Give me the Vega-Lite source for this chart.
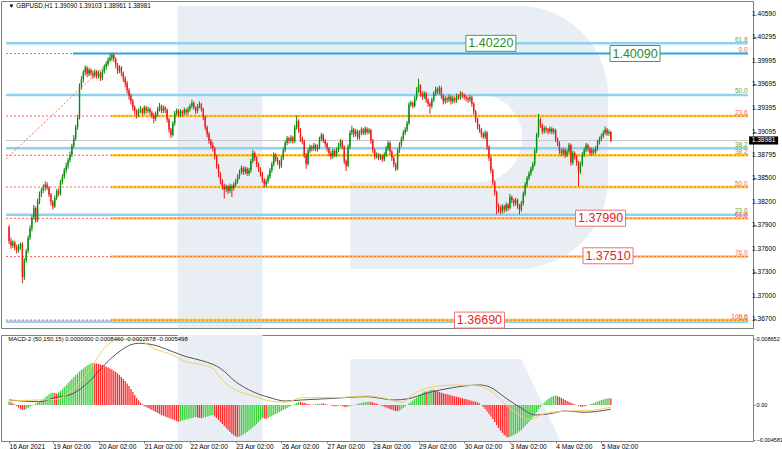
{
"$schema": "https://vega.github.io/schema/vega-lite/v6.json",
"padding": 0,
"spacing": 3,
"background": "white",
"config": {"view": {"stroke": "#7f7f7f", "strokeWidth": 1}, "font": "Liberation Sans",
  "axis": {"labelFont": "Liberation Sans", "labelFontSize": 6.6, "labelColor": "#000000", "tickColor": "#7f7f7f", "domainColor": "#7f7f7f", "grid": false, "tickSize": 3, "labelPadding": 1, "labelOverlap": false, "labelBound": false, "labelFlush": false}},
"resolve": {"scale": {"color": "independent", "stroke": "independent"}},
"datasets": {
"one": [{}],
"yt": [{"p":1.4059},{"p":1.40295},{"p":1.39995},{"p":1.39695},{"p":1.39395},{"p":1.39095},{"p":1.38795},{"p":1.385},{"p":1.382},{"p":1.379},{"p":1.376},{"p":1.373},{"p":1.37},{"p":1.367}],
"cd": [
{"i":-23,"o":1.3788,"h":1.379,"l":1.3766,"c":1.377},
{"i":-22,"o":1.377,"h":1.3774,"l":1.376,"c":1.3764},
{"i":-21,"o":1.3764,"h":1.3771,"l":1.3761,"c":1.3768},
{"i":-20,"o":1.3768,"h":1.377,"l":1.3758,"c":1.3762},
{"i":-19,"o":1.3762,"h":1.3765,"l":1.3754,"c":1.3758},
{"i":-18,"o":1.3758,"h":1.3766,"l":1.3755,"c":1.3763},
{"i":-17,"o":1.3763,"h":1.3768,"l":1.3759,"c":1.3766},
{"i":-16,"o":1.3766,"h":1.3768,"l":1.3716,"c":1.3724},
{"i":-15,"o":1.3724,"h":1.3748,"l":1.372,"c":1.3745},
{"i":-14,"o":1.3745,"h":1.376,"l":1.3742,"c":1.3757},
{"i":-13,"o":1.3757,"h":1.3777,"l":1.3754,"c":1.3774},
{"i":-12,"o":1.3774,"h":1.379,"l":1.3771,"c":1.3786},
{"i":-11,"o":1.3786,"h":1.3803,"l":1.3782,"c":1.38},
{"i":-10,"o":1.38,"h":1.3816,"l":1.3797,"c":1.3812},
{"i":-9,"o":1.3812,"h":1.3814,"l":1.3793,"c":1.3796},
{"i":-8,"o":1.3796,"h":1.3824,"l":1.3794,"c":1.3821},
{"i":-7,"o":1.3821,"h":1.3833,"l":1.3817,"c":1.383},
{"i":-6,"o":1.383,"h":1.3838,"l":1.3826,"c":1.3835},
{"i":-5,"o":1.3835,"h":1.3842,"l":1.3831,"c":1.3838},
{"i":-4,"o":1.3838,"h":1.3846,"l":1.3834,"c":1.3842},
{"i":-3,"o":1.3842,"h":1.3845,"l":1.3835,"c":1.3838},
{"i":-2,"o":1.3838,"h":1.384,"l":1.3826,"c":1.3829},
{"i":-1,"o":1.3829,"h":1.3831,"l":1.3815,"c":1.382},
{"i":0,"o":1.382,"h":1.3822,"l":1.381,"c":1.3814},
{"i":1,"o":1.3814,"h":1.3828,"l":1.3812,"c":1.3825},
{"i":2,"o":1.3825,"h":1.3836,"l":1.3822,"c":1.3834},
{"i":3,"o":1.3834,"h":1.3837,"l":1.3827,"c":1.383},
{"i":4,"o":1.383,"h":1.3848,"l":1.3828,"c":1.3845},
{"i":5,"o":1.3845,"h":1.3855,"l":1.3842,"c":1.3852},
{"i":6,"o":1.3852,"h":1.3863,"l":1.3849,"c":1.386},
{"i":7,"o":1.386,"h":1.387,"l":1.3856,"c":1.3866},
{"i":8,"o":1.3866,"h":1.3876,"l":1.3862,"c":1.3873},
{"i":9,"o":1.3873,"h":1.3884,"l":1.387,"c":1.388},
{"i":10,"o":1.388,"h":1.3894,"l":1.3877,"c":1.3891},
{"i":11,"o":1.3891,"h":1.3905,"l":1.3888,"c":1.3901},
{"i":12,"o":1.3901,"h":1.3918,"l":1.3898,"c":1.3915},
{"i":13,"o":1.3915,"h":1.3931,"l":1.3912,"c":1.3927},
{"i":14,"o":1.3927,"h":1.3971,"l":1.3925,"c":1.3968},
{"i":15,"o":1.3968,"h":1.398,"l":1.3963,"c":1.3976},
{"i":16,"o":1.3976,"h":1.3988,"l":1.3972,"c":1.3985},
{"i":17,"o":1.3985,"h":1.3994,"l":1.3981,"c":1.3991},
{"i":18,"o":1.3991,"h":1.3993,"l":1.3979,"c":1.3983},
{"i":19,"o":1.3983,"h":1.3991,"l":1.398,"c":1.3988},
{"i":20,"o":1.3988,"h":1.399,"l":1.398,"c":1.3984},
{"i":21,"o":1.3984,"h":1.3987,"l":1.3977,"c":1.3981},
{"i":22,"o":1.3981,"h":1.3989,"l":1.3978,"c":1.3986},
{"i":23,"o":1.3986,"h":1.3988,"l":1.3977,"c":1.398},
{"i":24,"o":1.398,"h":1.3987,"l":1.3977,"c":1.3984},
{"i":25,"o":1.3984,"h":1.3986,"l":1.3974,"c":1.3978},
{"i":26,"o":1.3978,"h":1.3989,"l":1.3975,"c":1.3986},
{"i":27,"o":1.3986,"h":1.3995,"l":1.3983,"c":1.3992},
{"i":28,"o":1.3992,"h":1.3999,"l":1.3988,"c":1.3996},
{"i":29,"o":1.3996,"h":1.4004,"l":1.3993,"c":1.4001},
{"i":30,"o":1.4001,"h":1.4008,"l":1.3998,"c":1.4004},
{"i":31,"o":1.4004,"h":1.401,"l":1.4,"c":1.4007},
{"i":32,"o":1.4007,"h":1.4009,"l":1.3998,"c":1.4002},
{"i":33,"o":1.4002,"h":1.4004,"l":1.399,"c":1.3994},
{"i":34,"o":1.3994,"h":1.3997,"l":1.3983,"c":1.3987},
{"i":35,"o":1.3987,"h":1.3994,"l":1.3984,"c":1.3991},
{"i":36,"o":1.3991,"h":1.3993,"l":1.398,"c":1.3984},
{"i":37,"o":1.3984,"h":1.3986,"l":1.3973,"c":1.3977},
{"i":38,"o":1.3977,"h":1.398,"l":1.3966,"c":1.3971},
{"i":39,"o":1.3971,"h":1.3974,"l":1.3958,"c":1.3962},
{"i":40,"o":1.3962,"h":1.3965,"l":1.395,"c":1.3955},
{"i":41,"o":1.3955,"h":1.3958,"l":1.3944,"c":1.3948},
{"i":42,"o":1.3948,"h":1.3951,"l":1.3936,"c":1.394},
{"i":43,"o":1.394,"h":1.3943,"l":1.3931,"c":1.3936},
{"i":44,"o":1.3936,"h":1.3938,"l":1.3926,"c":1.3931},
{"i":45,"o":1.3931,"h":1.3939,"l":1.3928,"c":1.3936},
{"i":46,"o":1.3936,"h":1.3942,"l":1.3933,"c":1.3938},
{"i":47,"o":1.3938,"h":1.394,"l":1.393,"c":1.3933},
{"i":48,"o":1.3933,"h":1.3943,"l":1.3931,"c":1.394},
{"i":49,"o":1.394,"h":1.3942,"l":1.3932,"c":1.3936},
{"i":50,"o":1.3936,"h":1.3941,"l":1.3933,"c":1.3938},
{"i":51,"o":1.3938,"h":1.394,"l":1.393,"c":1.3934},
{"i":52,"o":1.3934,"h":1.3936,"l":1.3926,"c":1.393},
{"i":53,"o":1.393,"h":1.3933,"l":1.392,"c":1.3926},
{"i":54,"o":1.3926,"h":1.3935,"l":1.3923,"c":1.3932},
{"i":55,"o":1.3932,"h":1.3941,"l":1.3929,"c":1.3938},
{"i":56,"o":1.3938,"h":1.3946,"l":1.3935,"c":1.3942},
{"i":57,"o":1.3942,"h":1.3944,"l":1.3933,"c":1.3936},
{"i":58,"o":1.3936,"h":1.3943,"l":1.3933,"c":1.394},
{"i":59,"o":1.394,"h":1.3942,"l":1.3933,"c":1.3937},
{"i":60,"o":1.3937,"h":1.3939,"l":1.3921,"c":1.3925},
{"i":61,"o":1.3925,"h":1.3927,"l":1.3908,"c":1.3912},
{"i":62,"o":1.3912,"h":1.3914,"l":1.3901,"c":1.3905},
{"i":63,"o":1.3905,"h":1.3923,"l":1.3903,"c":1.392},
{"i":64,"o":1.392,"h":1.3936,"l":1.3917,"c":1.3933},
{"i":65,"o":1.3933,"h":1.3939,"l":1.393,"c":1.3936},
{"i":66,"o":1.3936,"h":1.3938,"l":1.3928,"c":1.3931},
{"i":67,"o":1.3931,"h":1.3938,"l":1.3928,"c":1.3935},
{"i":68,"o":1.3935,"h":1.3937,"l":1.3929,"c":1.3933},
{"i":69,"o":1.3933,"h":1.394,"l":1.393,"c":1.3937},
{"i":70,"o":1.3937,"h":1.3939,"l":1.3931,"c":1.3934},
{"i":71,"o":1.3934,"h":1.3941,"l":1.3931,"c":1.3938},
{"i":72,"o":1.3938,"h":1.3945,"l":1.3935,"c":1.3942},
{"i":73,"o":1.3942,"h":1.395,"l":1.3939,"c":1.3946},
{"i":74,"o":1.3946,"h":1.3948,"l":1.3937,"c":1.394},
{"i":75,"o":1.394,"h":1.3942,"l":1.3932,"c":1.3936},
{"i":76,"o":1.3936,"h":1.3945,"l":1.3933,"c":1.3942},
{"i":77,"o":1.3942,"h":1.3948,"l":1.3939,"c":1.3944},
{"i":78,"o":1.3944,"h":1.3946,"l":1.3935,"c":1.3938},
{"i":79,"o":1.3938,"h":1.394,"l":1.3924,"c":1.3928},
{"i":80,"o":1.3928,"h":1.393,"l":1.3911,"c":1.3915},
{"i":81,"o":1.3915,"h":1.3917,"l":1.3902,"c":1.3906},
{"i":82,"o":1.3906,"h":1.3909,"l":1.3894,"c":1.3898},
{"i":83,"o":1.3898,"h":1.39,"l":1.3888,"c":1.3892},
{"i":84,"o":1.3892,"h":1.3896,"l":1.3884,"c":1.3888},
{"i":85,"o":1.3888,"h":1.389,"l":1.3874,"c":1.3878},
{"i":86,"o":1.3878,"h":1.388,"l":1.3862,"c":1.3866},
{"i":87,"o":1.3866,"h":1.3868,"l":1.3851,"c":1.3855},
{"i":88,"o":1.3855,"h":1.3858,"l":1.3842,"c":1.3846},
{"i":89,"o":1.3846,"h":1.3849,"l":1.3835,"c":1.384},
{"i":90,"o":1.384,"h":1.3843,"l":1.3824,"c":1.3836},
{"i":91,"o":1.3836,"h":1.3842,"l":1.3832,"c":1.3839},
{"i":92,"o":1.3839,"h":1.3841,"l":1.383,"c":1.3834},
{"i":93,"o":1.3834,"h":1.3843,"l":1.3831,"c":1.384},
{"i":94,"o":1.384,"h":1.3842,"l":1.3826,"c":1.3837},
{"i":95,"o":1.3837,"h":1.3845,"l":1.3834,"c":1.3842},
{"i":96,"o":1.3842,"h":1.3849,"l":1.3839,"c":1.3846},
{"i":97,"o":1.3846,"h":1.3855,"l":1.3843,"c":1.3852},
{"i":98,"o":1.3852,"h":1.3861,"l":1.3849,"c":1.3858},
{"i":99,"o":1.3858,"h":1.3866,"l":1.3855,"c":1.3863},
{"i":100,"o":1.3863,"h":1.3865,"l":1.3854,"c":1.3858},
{"i":101,"o":1.3858,"h":1.3865,"l":1.3855,"c":1.3862},
{"i":102,"o":1.3862,"h":1.3864,"l":1.3853,"c":1.3856},
{"i":103,"o":1.3856,"h":1.3863,"l":1.3853,"c":1.386},
{"i":104,"o":1.386,"h":1.3875,"l":1.3857,"c":1.3872},
{"i":105,"o":1.3872,"h":1.3886,"l":1.3869,"c":1.3882},
{"i":106,"o":1.3882,"h":1.3884,"l":1.3872,"c":1.3876},
{"i":107,"o":1.3876,"h":1.3878,"l":1.3864,"c":1.3868},
{"i":108,"o":1.3868,"h":1.387,"l":1.3858,"c":1.3862},
{"i":109,"o":1.3862,"h":1.3864,"l":1.3852,"c":1.3856},
{"i":110,"o":1.3856,"h":1.3858,"l":1.3844,"c":1.3848},
{"i":111,"o":1.3848,"h":1.385,"l":1.3838,"c":1.3842},
{"i":112,"o":1.3842,"h":1.3849,"l":1.3839,"c":1.3846},
{"i":113,"o":1.3846,"h":1.3855,"l":1.3843,"c":1.3852},
{"i":114,"o":1.3852,"h":1.3863,"l":1.3849,"c":1.386},
{"i":115,"o":1.386,"h":1.3871,"l":1.3857,"c":1.3868},
{"i":116,"o":1.3868,"h":1.3883,"l":1.3865,"c":1.388},
{"i":117,"o":1.388,"h":1.3882,"l":1.3871,"c":1.3874},
{"i":118,"o":1.3874,"h":1.3877,"l":1.3867,"c":1.387},
{"i":119,"o":1.387,"h":1.3873,"l":1.3862,"c":1.3866},
{"i":120,"o":1.3866,"h":1.3879,"l":1.3863,"c":1.3876},
{"i":121,"o":1.3876,"h":1.3889,"l":1.3873,"c":1.3886},
{"i":122,"o":1.3886,"h":1.3898,"l":1.3883,"c":1.3895},
{"i":123,"o":1.3895,"h":1.3904,"l":1.3892,"c":1.3901},
{"i":124,"o":1.3901,"h":1.3903,"l":1.3894,"c":1.3898},
{"i":125,"o":1.3898,"h":1.3905,"l":1.3895,"c":1.3902},
{"i":126,"o":1.3902,"h":1.3904,"l":1.3894,"c":1.3897},
{"i":127,"o":1.3897,"h":1.3918,"l":1.3895,"c":1.3915},
{"i":128,"o":1.3915,"h":1.393,"l":1.3912,"c":1.3923},
{"i":129,"o":1.3923,"h":1.3925,"l":1.3908,"c":1.3912},
{"i":130,"o":1.3912,"h":1.3914,"l":1.3896,"c":1.39},
{"i":131,"o":1.39,"h":1.3903,"l":1.3893,"c":1.3897},
{"i":132,"o":1.3897,"h":1.3899,"l":1.3876,"c":1.388},
{"i":133,"o":1.388,"h":1.3882,"l":1.3862,"c":1.3868},
{"i":134,"o":1.3868,"h":1.3888,"l":1.3866,"c":1.3885},
{"i":135,"o":1.3885,"h":1.3893,"l":1.3882,"c":1.389},
{"i":136,"o":1.389,"h":1.3892,"l":1.3884,"c":1.3888},
{"i":137,"o":1.3888,"h":1.3895,"l":1.3885,"c":1.3892},
{"i":138,"o":1.3892,"h":1.3894,"l":1.3884,"c":1.3887},
{"i":139,"o":1.3887,"h":1.3893,"l":1.3884,"c":1.389},
{"i":140,"o":1.389,"h":1.3903,"l":1.3887,"c":1.39},
{"i":141,"o":1.39,"h":1.3908,"l":1.3897,"c":1.3905},
{"i":142,"o":1.3905,"h":1.3907,"l":1.3895,"c":1.3898},
{"i":143,"o":1.3898,"h":1.39,"l":1.389,"c":1.3894},
{"i":144,"o":1.3894,"h":1.3896,"l":1.3884,"c":1.3888},
{"i":145,"o":1.3888,"h":1.389,"l":1.3878,"c":1.3882},
{"i":146,"o":1.3882,"h":1.3885,"l":1.3874,"c":1.3878},
{"i":147,"o":1.3878,"h":1.3888,"l":1.3875,"c":1.3885},
{"i":148,"o":1.3885,"h":1.3887,"l":1.3877,"c":1.388},
{"i":149,"o":1.388,"h":1.3889,"l":1.3877,"c":1.3886},
{"i":150,"o":1.3886,"h":1.3895,"l":1.3883,"c":1.3892},
{"i":151,"o":1.3892,"h":1.39,"l":1.3889,"c":1.3897},
{"i":152,"o":1.3897,"h":1.3899,"l":1.3887,"c":1.389},
{"i":153,"o":1.389,"h":1.3892,"l":1.3868,"c":1.3872},
{"i":154,"o":1.3872,"h":1.3874,"l":1.3859,"c":1.3866},
{"i":155,"o":1.3866,"h":1.3893,"l":1.3864,"c":1.389},
{"i":156,"o":1.389,"h":1.3911,"l":1.3887,"c":1.3908},
{"i":157,"o":1.3908,"h":1.3917,"l":1.3905,"c":1.3912},
{"i":158,"o":1.3912,"h":1.3914,"l":1.3902,"c":1.3906},
{"i":159,"o":1.3906,"h":1.3913,"l":1.3903,"c":1.391},
{"i":160,"o":1.391,"h":1.3912,"l":1.3899,"c":1.3902},
{"i":161,"o":1.3902,"h":1.3911,"l":1.3899,"c":1.3908},
{"i":162,"o":1.3908,"h":1.3915,"l":1.3905,"c":1.3912},
{"i":163,"o":1.3912,"h":1.3914,"l":1.3905,"c":1.3908},
{"i":164,"o":1.3908,"h":1.3916,"l":1.3905,"c":1.3913},
{"i":165,"o":1.3913,"h":1.3915,"l":1.3906,"c":1.3909},
{"i":166,"o":1.3909,"h":1.3914,"l":1.3906,"c":1.3911},
{"i":167,"o":1.3911,"h":1.3913,"l":1.3894,"c":1.3898},
{"i":168,"o":1.3898,"h":1.39,"l":1.3882,"c":1.3886},
{"i":169,"o":1.3886,"h":1.3888,"l":1.3874,"c":1.3878},
{"i":170,"o":1.3878,"h":1.3883,"l":1.3875,"c":1.388},
{"i":171,"o":1.388,"h":1.3882,"l":1.3873,"c":1.3876},
{"i":172,"o":1.3876,"h":1.3881,"l":1.3873,"c":1.3878},
{"i":173,"o":1.3878,"h":1.388,"l":1.3871,"c":1.3874},
{"i":174,"o":1.3874,"h":1.3883,"l":1.3871,"c":1.388},
{"i":175,"o":1.388,"h":1.3891,"l":1.3877,"c":1.3888},
{"i":176,"o":1.3888,"h":1.3898,"l":1.3885,"c":1.3895},
{"i":177,"o":1.3895,"h":1.3897,"l":1.388,"c":1.3884},
{"i":178,"o":1.3884,"h":1.3886,"l":1.3872,"c":1.3876},
{"i":179,"o":1.3876,"h":1.3878,"l":1.3864,"c":1.3868},
{"i":180,"o":1.3868,"h":1.387,"l":1.3859,"c":1.3862},
{"i":181,"o":1.3862,"h":1.3888,"l":1.386,"c":1.3885},
{"i":182,"o":1.3885,"h":1.3896,"l":1.3882,"c":1.3893},
{"i":183,"o":1.3893,"h":1.3903,"l":1.389,"c":1.39},
{"i":184,"o":1.39,"h":1.3911,"l":1.3897,"c":1.3908},
{"i":185,"o":1.3908,"h":1.3915,"l":1.3905,"c":1.3912},
{"i":186,"o":1.3912,"h":1.3923,"l":1.3909,"c":1.392},
{"i":187,"o":1.392,"h":1.3947,"l":1.3918,"c":1.3944},
{"i":188,"o":1.3944,"h":1.3949,"l":1.3941,"c":1.3946},
{"i":189,"o":1.3946,"h":1.3948,"l":1.3939,"c":1.3942},
{"i":190,"o":1.3942,"h":1.3955,"l":1.394,"c":1.3952},
{"i":191,"o":1.3952,"h":1.3966,"l":1.3949,"c":1.3962},
{"i":192,"o":1.3962,"h":1.3977,"l":1.3959,"c":1.3968},
{"i":193,"o":1.3968,"h":1.397,"l":1.3954,"c":1.3958},
{"i":194,"o":1.3958,"h":1.3961,"l":1.395,"c":1.3954},
{"i":195,"o":1.3954,"h":1.3961,"l":1.3951,"c":1.3958},
{"i":196,"o":1.3958,"h":1.396,"l":1.3946,"c":1.395},
{"i":197,"o":1.395,"h":1.3952,"l":1.3941,"c":1.3945},
{"i":198,"o":1.3945,"h":1.3947,"l":1.3932,"c":1.3942},
{"i":199,"o":1.3942,"h":1.3953,"l":1.3939,"c":1.395},
{"i":200,"o":1.395,"h":1.3961,"l":1.3947,"c":1.3958},
{"i":201,"o":1.3958,"h":1.3967,"l":1.3955,"c":1.3964},
{"i":202,"o":1.3964,"h":1.3966,"l":1.3957,"c":1.396},
{"i":203,"o":1.396,"h":1.3968,"l":1.3957,"c":1.3965},
{"i":204,"o":1.3965,"h":1.3967,"l":1.3951,"c":1.3955},
{"i":205,"o":1.3955,"h":1.3957,"l":1.3944,"c":1.3948},
{"i":206,"o":1.3948,"h":1.3955,"l":1.3945,"c":1.3952},
{"i":207,"o":1.3952,"h":1.3954,"l":1.3946,"c":1.395},
{"i":208,"o":1.395,"h":1.3957,"l":1.3947,"c":1.3954},
{"i":209,"o":1.3954,"h":1.3956,"l":1.3944,"c":1.3948},
{"i":210,"o":1.3948,"h":1.3955,"l":1.3945,"c":1.3952},
{"i":211,"o":1.3952,"h":1.3954,"l":1.3946,"c":1.3949},
{"i":212,"o":1.3949,"h":1.3958,"l":1.3946,"c":1.3955},
{"i":213,"o":1.3955,"h":1.3957,"l":1.395,"c":1.3953},
{"i":214,"o":1.3953,"h":1.3961,"l":1.395,"c":1.3958},
{"i":215,"o":1.3958,"h":1.396,"l":1.3952,"c":1.3956},
{"i":216,"o":1.3956,"h":1.3958,"l":1.395,"c":1.3954},
{"i":217,"o":1.3954,"h":1.3956,"l":1.3948,"c":1.3952},
{"i":218,"o":1.3952,"h":1.3954,"l":1.3946,"c":1.395},
{"i":219,"o":1.395,"h":1.3956,"l":1.3947,"c":1.3953},
{"i":220,"o":1.3953,"h":1.3955,"l":1.3941,"c":1.3945},
{"i":221,"o":1.3945,"h":1.3947,"l":1.3931,"c":1.3935},
{"i":222,"o":1.3935,"h":1.3937,"l":1.3921,"c":1.3925},
{"i":223,"o":1.3925,"h":1.3927,"l":1.3912,"c":1.3916},
{"i":224,"o":1.3916,"h":1.3919,"l":1.3908,"c":1.3912},
{"i":225,"o":1.3912,"h":1.3914,"l":1.3902,"c":1.3906},
{"i":226,"o":1.3906,"h":1.3909,"l":1.39,"c":1.3903},
{"i":227,"o":1.3903,"h":1.3911,"l":1.39,"c":1.3908},
{"i":228,"o":1.3908,"h":1.391,"l":1.3886,"c":1.389},
{"i":229,"o":1.389,"h":1.3892,"l":1.3872,"c":1.3876},
{"i":230,"o":1.3876,"h":1.3878,"l":1.3856,"c":1.386},
{"i":231,"o":1.386,"h":1.3862,"l":1.3841,"c":1.3845},
{"i":232,"o":1.3845,"h":1.3847,"l":1.3828,"c":1.3832},
{"i":233,"o":1.3832,"h":1.3834,"l":1.3804,"c":1.3815},
{"i":234,"o":1.3815,"h":1.3818,"l":1.3806,"c":1.3812},
{"i":235,"o":1.3812,"h":1.3815,"l":1.3804,"c":1.3808},
{"i":236,"o":1.3808,"h":1.3817,"l":1.3805,"c":1.3814},
{"i":237,"o":1.3814,"h":1.3816,"l":1.3806,"c":1.381},
{"i":238,"o":1.381,"h":1.3819,"l":1.3807,"c":1.3816},
{"i":239,"o":1.3816,"h":1.3818,"l":1.3808,"c":1.3812},
{"i":240,"o":1.3812,"h":1.383,"l":1.381,"c":1.3826},
{"i":241,"o":1.3826,"h":1.3828,"l":1.3818,"c":1.3822},
{"i":242,"o":1.3822,"h":1.3824,"l":1.3814,"c":1.3818},
{"i":243,"o":1.3818,"h":1.3825,"l":1.3815,"c":1.3822},
{"i":244,"o":1.3822,"h":1.3824,"l":1.3811,"c":1.3815},
{"i":245,"o":1.3815,"h":1.3817,"l":1.3804,"c":1.381},
{"i":246,"o":1.381,"h":1.3821,"l":1.3807,"c":1.3818},
{"i":247,"o":1.3818,"h":1.3833,"l":1.3815,"c":1.383},
{"i":248,"o":1.383,"h":1.3845,"l":1.3827,"c":1.3842},
{"i":249,"o":1.3842,"h":1.3853,"l":1.3839,"c":1.385},
{"i":250,"o":1.385,"h":1.3859,"l":1.3847,"c":1.3856},
{"i":251,"o":1.3856,"h":1.3865,"l":1.3853,"c":1.3862},
{"i":252,"o":1.3862,"h":1.3871,"l":1.3859,"c":1.3868},
{"i":253,"o":1.3868,"h":1.3888,"l":1.3865,"c":1.3885},
{"i":254,"o":1.3885,"h":1.3908,"l":1.3882,"c":1.3905},
{"i":255,"o":1.3905,"h":1.3932,"l":1.3902,"c":1.3925},
{"i":256,"o":1.3925,"h":1.3927,"l":1.3914,"c":1.3918},
{"i":257,"o":1.3918,"h":1.392,"l":1.3906,"c":1.391},
{"i":258,"o":1.391,"h":1.3917,"l":1.3907,"c":1.3914},
{"i":259,"o":1.3914,"h":1.3916,"l":1.3908,"c":1.3912},
{"i":260,"o":1.3912,"h":1.3914,"l":1.3906,"c":1.391},
{"i":261,"o":1.391,"h":1.3916,"l":1.3907,"c":1.3913},
{"i":262,"o":1.3913,"h":1.3915,"l":1.3906,"c":1.3909},
{"i":263,"o":1.3909,"h":1.3914,"l":1.3906,"c":1.3911},
{"i":264,"o":1.3911,"h":1.3913,"l":1.3896,"c":1.39},
{"i":265,"o":1.39,"h":1.3902,"l":1.3891,"c":1.3895},
{"i":266,"o":1.3895,"h":1.3897,"l":1.3881,"c":1.3885},
{"i":267,"o":1.3885,"h":1.3888,"l":1.3878,"c":1.3882},
{"i":268,"o":1.3882,"h":1.3889,"l":1.3879,"c":1.3886},
{"i":269,"o":1.3886,"h":1.3888,"l":1.3876,"c":1.388},
{"i":270,"o":1.388,"h":1.3887,"l":1.3877,"c":1.3884},
{"i":271,"o":1.3884,"h":1.3895,"l":1.3881,"c":1.3892},
{"i":272,"o":1.3892,"h":1.3894,"l":1.3866,"c":1.387},
{"i":273,"o":1.387,"h":1.3885,"l":1.3867,"c":1.3882},
{"i":274,"o":1.3882,"h":1.3884,"l":1.3874,"c":1.3878},
{"i":275,"o":1.3878,"h":1.388,"l":1.3866,"c":1.387},
{"i":276,"o":1.387,"h":1.3872,"l":1.384,"c":1.3858},
{"i":277,"o":1.3858,"h":1.3871,"l":1.3855,"c":1.3868},
{"i":278,"o":1.3868,"h":1.3883,"l":1.3865,"c":1.388},
{"i":279,"o":1.388,"h":1.3889,"l":1.3877,"c":1.3886},
{"i":280,"o":1.3886,"h":1.3895,"l":1.3883,"c":1.3892},
{"i":281,"o":1.3892,"h":1.3894,"l":1.3884,"c":1.3888},
{"i":282,"o":1.3888,"h":1.389,"l":1.3879,"c":1.3882},
{"i":283,"o":1.3882,"h":1.3889,"l":1.3879,"c":1.3886},
{"i":284,"o":1.3886,"h":1.3888,"l":1.388,"c":1.3884},
{"i":285,"o":1.3884,"h":1.3891,"l":1.3881,"c":1.3888},
{"i":286,"o":1.3888,"h":1.3899,"l":1.3885,"c":1.3896},
{"i":287,"o":1.3896,"h":1.3903,"l":1.3893,"c":1.39},
{"i":288,"o":1.39,"h":1.3907,"l":1.3897,"c":1.3904},
{"i":289,"o":1.3904,"h":1.3911,"l":1.3901,"c":1.3908},
{"i":290,"o":1.3908,"h":1.3916,"l":1.3905,"c":1.3912},
{"i":291,"o":1.3912,"h":1.3914,"l":1.3904,"c":1.3907},
{"i":292,"o":1.3907,"h":1.3912,"l":1.3904,"c":1.3909},
{"i":293,"o":1.3909,"h":1.39103,"l":1.38961,"c":1.38981}
],
"hg": [
{"i":-23,"v":0.00046},{"i":-22,"v":0.00033},{"i":-21,"v":0.0002},{"i":-20,"v":0.00007},{"i":-19,"v":-0.00013},{"i":-18,"v":-0.00033},{"i":-17,"v":-0.0005},{"i":-16,"v":-0.00063},{"i":-15,"v":-0.00066},{"i":-14,"v":-0.00055},
{"i":-13,"v":-0.00039},{"i":-12,"v":-0.00026},{"i":-11,"v":-0.0001},{"i":-10,"v":0.00007},{"i":-9,"v":0.0002},{"i":-8,"v":0.00033},{"i":-7,"v":0.00046},{"i":-6,"v":0.00059},{"i":-5,"v":0.00079},{"i":-4,"v":0.00098},
{"i":-3,"v":0.00118},{"i":-2,"v":0.00138},{"i":-1,"v":0.00157},{"i":0,"v":0.00164},{"i":1,"v":0.00155},{"i":2,"v":0.00151},{"i":3,"v":0.00168},{"i":4,"v":0.00183},{"i":5,"v":0.0021},{"i":6,"v":0.00236},
{"i":7,"v":0.00262},{"i":8,"v":0.00288},{"i":9,"v":0.00314},{"i":10,"v":0.00341},{"i":11,"v":0.00367},{"i":12,"v":0.00393},{"i":13,"v":0.00413},{"i":14,"v":0.00439},{"i":15,"v":0.00459},{"i":16,"v":0.00478},
{"i":17,"v":0.00498},{"i":18,"v":0.00517},{"i":19,"v":0.00531},{"i":20,"v":0.00544},{"i":21,"v":0.0055},{"i":22,"v":0.00548},{"i":23,"v":0.00542},{"i":24,"v":0.00537},{"i":25,"v":0.00531},{"i":26,"v":0.00524},
{"i":27,"v":0.00514},{"i":28,"v":0.00503},{"i":29,"v":0.00491},{"i":30,"v":0.00478},{"i":31,"v":0.00465},{"i":32,"v":0.00449},{"i":33,"v":0.00432},{"i":34,"v":0.00413},{"i":35,"v":0.00393},{"i":36,"v":0.00367},
{"i":37,"v":0.00341},{"i":38,"v":0.00314},{"i":39,"v":0.00282},{"i":40,"v":0.00249},{"i":41,"v":0.0021},{"i":42,"v":0.0017},{"i":43,"v":0.00131},{"i":44,"v":0.00092},{"i":45,"v":0.00059},{"i":46,"v":0.00033},
{"i":47,"v":0.00007},{"i":48,"v":-0.00013},{"i":49,"v":-0.00026},{"i":50,"v":-0.00039},{"i":51,"v":-0.00052},{"i":52,"v":-0.00066},{"i":53,"v":-0.00079},{"i":54,"v":-0.00092},{"i":55,"v":-0.00105},{"i":56,"v":-0.00118},
{"i":57,"v":-0.00131},{"i":58,"v":-0.00141},{"i":59,"v":-0.00151},{"i":60,"v":-0.00161},{"i":61,"v":-0.0017},{"i":62,"v":-0.00181},{"i":63,"v":-0.0019},{"i":64,"v":-0.00199},{"i":65,"v":-0.0021},{"i":66,"v":-0.00219},
{"i":67,"v":-0.00212},{"i":68,"v":-0.00204},{"i":69,"v":-0.00197},{"i":70,"v":-0.0019},{"i":71,"v":-0.00183},{"i":72,"v":-0.00177},{"i":73,"v":-0.0017},{"i":74,"v":-0.00164},{"i":75,"v":-0.00157},{"i":76,"v":-0.00164},
{"i":77,"v":-0.0017},{"i":78,"v":-0.00173},{"i":79,"v":-0.00168},{"i":80,"v":-0.0016},{"i":81,"v":-0.00151},{"i":82,"v":-0.00144},{"i":83,"v":-0.00138},{"i":84,"v":-0.00131},{"i":85,"v":-0.00151},{"i":86,"v":-0.0017},
{"i":87,"v":-0.00197},{"i":88,"v":-0.00223},{"i":89,"v":-0.00249},{"i":90,"v":-0.00275},{"i":91,"v":-0.00301},{"i":92,"v":-0.00328},{"i":93,"v":-0.00354},{"i":94,"v":-0.0038},{"i":95,"v":-0.004},{"i":96,"v":-0.00413},
{"i":97,"v":-0.00419},{"i":98,"v":-0.00413},{"i":99,"v":-0.004},{"i":100,"v":-0.00386},{"i":101,"v":-0.00373},{"i":102,"v":-0.00354},{"i":103,"v":-0.00334},{"i":104,"v":-0.00314},{"i":105,"v":-0.00295},{"i":106,"v":-0.00275},
{"i":107,"v":-0.00249},{"i":108,"v":-0.00223},{"i":109,"v":-0.00197},{"i":110,"v":-0.0017},{"i":111,"v":-0.00177},{"i":112,"v":-0.00183},{"i":113,"v":-0.0017},{"i":114,"v":-0.00157},{"i":115,"v":-0.00144},{"i":116,"v":-0.00131},
{"i":117,"v":-0.00118},{"i":118,"v":-0.00105},{"i":119,"v":-0.00092},{"i":120,"v":-0.00079},{"i":121,"v":-0.00066},{"i":122,"v":-0.00052},{"i":123,"v":-0.00039},{"i":124,"v":-0.00026},{"i":125,"v":-0.00013},{"i":126,"v":0.00001},
{"i":127,"v":0.00013},{"i":128,"v":0.00026},{"i":129,"v":0.00039},{"i":130,"v":0.00037},{"i":131,"v":0.00033},{"i":132,"v":0.00026},{"i":133,"v":0.0002},{"i":134,"v":0.00013},{"i":135,"v":0.00007},{"i":136,"v":0.00003},
{"i":137,"v":0.00007},{"i":138,"v":0.0001},{"i":139,"v":0.00013},{"i":140,"v":0.00016},{"i":141,"v":0.0002},{"i":142,"v":0.00018},{"i":143,"v":0.00013},{"i":144,"v":0.00007},{"i":145,"v":0},{"i":146,"v":-0.00007},
{"i":147,"v":-0.00013},{"i":148,"v":-0.0002},{"i":149,"v":-0.00016},{"i":150,"v":-0.00013},{"i":151,"v":-0.0001},{"i":152,"v":-0.00016},{"i":153,"v":-0.00024},{"i":154,"v":-0.00029},{"i":155,"v":-0.00024},{"i":156,"v":-0.00016},
{"i":157,"v":-0.00007},{"i":158,"v":0.00001},{"i":159,"v":0.00007},{"i":160,"v":0.00013},{"i":161,"v":0.0002},{"i":162,"v":0.00026},{"i":163,"v":0.00033},{"i":164,"v":0.00037},{"i":165,"v":0.00039},{"i":166,"v":0.00042},
{"i":167,"v":0.00039},{"i":168,"v":0.00033},{"i":169,"v":0.00026},{"i":170,"v":0.00017},{"i":171,"v":0.00007},{"i":172,"v":-0.00004},{"i":173,"v":-0.00013},{"i":174,"v":-0.00024},{"i":175,"v":-0.00033},{"i":176,"v":-0.00042},
{"i":177,"v":-0.00052},{"i":178,"v":-0.00063},{"i":179,"v":-0.00072},{"i":180,"v":-0.00079},{"i":181,"v":-0.00083},{"i":182,"v":-0.00072},{"i":183,"v":-0.00059},{"i":184,"v":-0.00039},{"i":185,"v":-0.0002},{"i":186,"v":0.00001},
{"i":187,"v":0.0002},{"i":188,"v":0.00039},{"i":189,"v":0.00059},{"i":190,"v":0.00079},{"i":191,"v":0.00098},{"i":192,"v":0.00118},{"i":193,"v":0.00138},{"i":194,"v":0.00157},{"i":195,"v":0.00177},{"i":196,"v":0.00173},
{"i":197,"v":0.00183},{"i":198,"v":0.00197},{"i":199,"v":0.00203},{"i":200,"v":0.00199},{"i":201,"v":0.0019},{"i":202,"v":0.00181},{"i":203,"v":0.0017},{"i":204,"v":0.00161},{"i":205,"v":0.00155},{"i":206,"v":0.00148},
{"i":207,"v":0.00141},{"i":208,"v":0.00135},{"i":209,"v":0.00128},{"i":210,"v":0.00122},{"i":211,"v":0.00115},{"i":212,"v":0.00109},{"i":213,"v":0.00102},{"i":214,"v":0.00096},{"i":215,"v":0.00089},{"i":216,"v":0.00083},
{"i":217,"v":0.00076},{"i":218,"v":0.00069},{"i":219,"v":0.00063},{"i":220,"v":0.00056},{"i":221,"v":0.0005},{"i":222,"v":0.00043},{"i":223,"v":0.00037},{"i":224,"v":0.0002},{"i":225,"v":-0.00001},{"i":226,"v":-0.00026},
{"i":227,"v":-0.00052},{"i":228,"v":-0.00085},{"i":229,"v":-0.00118},{"i":230,"v":-0.00151},{"i":231,"v":-0.00183},{"i":232,"v":-0.00223},{"i":233,"v":-0.00262},{"i":234,"v":-0.00301},{"i":235,"v":-0.00334},{"i":236,"v":-0.00367},
{"i":237,"v":-0.00393},{"i":238,"v":-0.00413},{"i":239,"v":-0.00422},{"i":240,"v":-0.00417},{"i":241,"v":-0.00406},{"i":242,"v":-0.00393},{"i":243,"v":-0.0038},{"i":244,"v":-0.00364},{"i":245,"v":-0.00347},{"i":246,"v":-0.00328},
{"i":247,"v":-0.00301},{"i":248,"v":-0.00275},{"i":249,"v":-0.00249},{"i":250,"v":-0.00223},{"i":251,"v":-0.0019},{"i":252,"v":-0.00157},{"i":253,"v":-0.00124},{"i":254,"v":-0.00092},{"i":255,"v":-0.00059},{"i":256,"v":-0.00026},
{"i":257,"v":0.00007},{"i":258,"v":0.00033},{"i":259,"v":0.00059},{"i":260,"v":0.00079},{"i":261,"v":0.00094},{"i":262,"v":0.00107},{"i":263,"v":0.00118},{"i":264,"v":0.00122},{"i":265,"v":0.00115},{"i":266,"v":0.00105},
{"i":267,"v":0.00092},{"i":268,"v":0.00079},{"i":269,"v":0.00066},{"i":270,"v":0.00052},{"i":271,"v":0.00039},{"i":272,"v":0.00029},{"i":273,"v":0.0002},{"i":274,"v":0.0001},{"i":275,"v":-0.00001},{"i":276,"v":-0.0001},
{"i":277,"v":-0.0002},{"i":278,"v":-0.00026},{"i":279,"v":-0.0002},{"i":280,"v":-0.00013},{"i":281,"v":-0.00004},{"i":282,"v":0.00007},{"i":283,"v":0.00017},{"i":284,"v":0.00026},{"i":285,"v":0.00037},{"i":286,"v":0.00046},
{"i":287,"v":0.00055},{"i":288,"v":0.00064},{"i":289,"v":0.00072},{"i":290,"v":0.0008},{"i":291,"v":0.00086},{"i":292,"v":0.00092},{"i":293,"v":0.000846}
],
"ml": [
{"i":-23,"s":"macd","v":0.00066},{"i":-7,"s":"macd","v":0.00043},{"i":1,"s":"macd","v":0.00096},{"i":10,"s":"macd","v":0.00144},{"i":19,"s":"macd","v":0.00305},{"i":27,"s":"macd","v":0.00524},{"i":36,"s":"macd","v":0.0072},{"i":41,"s":"macd","v":0.0079},{"i":45,"s":"macd","v":0.00808},{"i":53,"s":"macd","v":0.00786},{"i":62,"s":"macd","v":0.00707},{"i":70,"s":"macd","v":0.00633},{"i":79,"s":"macd","v":0.00576},{"i":88,"s":"macd","v":0.0048},{"i":96,"s":"macd","v":0.00305},{"i":105,"s":"macd","v":0.00174},{"i":114,"s":"macd","v":0.00096},{"i":122,"s":"macd","v":0.00052},{"i":131,"s":"macd","v":0.00066},{"i":148,"s":"macd","v":0.00088},{"i":165,"s":"macd","v":0.00109},{"i":179,"s":"macd","v":0.00066},{"i":186,"s":"macd","v":0.00079},{"i":196,"s":"macd","v":0.00153},{"i":208,"s":"macd","v":0.00219},{"i":224,"s":"macd","v":0.00262},{"i":229,"s":"macd","v":0.0024},{"i":238,"s":"macd","v":0.00088},{"i":246,"s":"macd","v":-0.00043},{"i":253,"s":"macd","v":-0.00131},{"i":259,"s":"macd","v":-0.00122},{"i":269,"s":"macd","v":-0.00079},{"i":279,"s":"macd","v":-0.00096},{"i":293,"s":"macd","v":-0.00055},
{"i":-23,"s":"signal","v":0.00052},{"i":-7,"s":"signal","v":0.00066},{"i":1,"s":"signal","v":0.00072},{"i":10,"s":"signal","v":0.0019},{"i":19,"s":"signal","v":0.0045},{"i":27,"s":"signal","v":0.00742},{"i":32,"s":"signal","v":0.0084},{"i":36,"s":"signal","v":0.0086},{"i":41,"s":"signal","v":0.008652},{"i":45,"s":"signal","v":0.00852},{"i":53,"s":"signal","v":0.00742},{"i":62,"s":"signal","v":0.00664},{"i":70,"s":"signal","v":0.00567},{"i":79,"s":"signal","v":0.00524},{"i":84,"s":"signal","v":0.0048},{"i":88,"s":"signal","v":0.0035},{"i":96,"s":"signal","v":0.00197},{"i":105,"s":"signal","v":0.00122},{"i":114,"s":"signal","v":0.00052},{"i":122,"s":"signal","v":0.00035},{"i":131,"s":"signal","v":0.00096},{"i":148,"s":"signal","v":0.00096},{"i":165,"s":"signal","v":0.00118},{"i":174,"s":"signal","v":0.00088},{"i":183,"s":"signal","v":0.00035},{"i":190,"s":"signal","v":0.00153},{"i":200,"s":"signal","v":0.0024},{"i":212,"s":"signal","v":0.00262},{"i":222,"s":"signal","v":0.00253},{"i":229,"s":"signal","v":0.00197},{"i":238,"s":"signal","v":0},{"i":245,"s":"signal","v":-0.00131},{"i":250,"s":"signal","v":-0.00197},{"i":255,"s":"signal","v":-0.0014},{"i":262,"s":"signal","v":-0.00096},{"i":272,"s":"signal","v":-0.00079},{"i":283,"s":"signal","v":-0.00069},{"i":293,"s":"signal","v":-0.00027}
],
"fl": [
{"p":1.4022,"t":"61.8","k":"g"},{"p":1.39561,"t":"50.0","k":"g"},{"p":1.38881,"t":"38.2","k":"g"},{"p":1.38034,"t":"23.6","k":"g"},{"p":1.3667,"t":"0.0","k":"g"},
{"p":1.4009,"t":"0.0","k":"r"},{"p":1.39293,"t":"23.6","k":"r"},{"p":1.38792,"t":"38.2","k":"r"},{"p":1.38387,"t":"50.0","k":"r"},{"p":1.37988,"t":"61.8","k":"r"},{"p":1.375,"t":"76.0","k":"r"},{"p":1.3669,"t":"100.0","k":"r"}
],
"tg": [
{"i":230,"p":1.4022,"t":"1.40220","k":"g"},{"i":305.7,"p":1.4009,"t":"1.40090","k":"g"},{"i":287.6,"p":1.3799,"t":"1.37990","k":"r"},{"i":291.5,"p":1.3751,"t":"1.37510","k":"r"},{"i":224,"p":1.3669,"t":"1.36690","k":"r"}
]
},
"vconcat": [
{
"width": 752, "height": 327,
"layer": [
{"data": {"name": "one"}, "mark": {"type": "rect", "color": "#e9eef5", "cornerRadiusTopRight": 90, "cornerRadiusBottomRight": 90},
 "encoding": {"x": {"datum": 65.5, "type": "quantitative", "scale": {"domain": [-24.6, 365], "nice": false, "zero": false}, "axis": null}, "x2": {"datum": 291.5},
  "y": {"datum": 1.407, "type": "quantitative", "scale": {"domain": [1.36589, 1.4076], "nice": false, "zero": false},
   "axis": {"orient": "right", "values": [1.367, 1.37, 1.373, 1.376, 1.379, 1.382, 1.385, 1.38795, 1.39095, 1.39395, 1.39695, 1.39995, 1.40295, 1.4059], "labels": false, "title": null}},
  "y2": {"datum": 1.37343}}},
{"data": {"name": "one"}, "mark": {"type": "rect", "color": "#e9eef5"},
 "encoding": {"x": {"datum": 65.5, "type": "quantitative", "scale": {"domain": [-24.6, 365], "nice": false, "zero": false}, "axis": null}, "x2": {"datum": 110.1},
  "y": {"datum": 1.407, "type": "quantitative", "scale": {"domain": [1.36589, 1.4076], "nice": false, "zero": false}}, "y2": {"datum": 1.36589}}},
{"data": {"name": "one"}, "mark": {"type": "rect", "color": "white", "cornerRadiusTopRight": 44, "cornerRadiusBottomRight": 44},
 "encoding": {"x": {"datum": 110.1, "type": "quantitative", "scale": {"domain": [-24.6, 365], "nice": false, "zero": false}, "axis": null}, "x2": {"datum": 246.5},
  "y": {"datum": 1.39574, "type": "quantitative", "scale": {"domain": [1.36589, 1.4076], "nice": false, "zero": false}}, "y2": {"datum": 1.38452}}},
{"data": {"name": "one"}, "mark": {"type": "rect", "color": "white"},
 "encoding": {"x": {"datum": 110.1, "type": "quantitative", "scale": {"domain": [-24.6, 365], "nice": false, "zero": false}, "axis": null}, "x2": {"datum": 156.2},
  "y": {"datum": 1.3846, "type": "quantitative", "scale": {"domain": [1.36589, 1.4076], "nice": false, "zero": false}}, "y2": {"datum": 1.37343}}},
{"data": {"name": "one"}, "mark": {"type": "rule", "color": "#c8c8c8", "strokeWidth": 1},
 "encoding": {"x": {"datum": -24.6, "type": "quantitative", "scale": {"domain": [-24.6, 365], "nice": false, "zero": false}, "axis": null}, "x2": {"datum": 365},
  "y": {"datum": 1.38981, "type": "quantitative", "scale": {"domain": [1.36589, 1.4076], "nice": false, "zero": false}}}},
{"data": {"name": "fl"}, "transform": [{"filter": "datum.k == 'g'"}],
 "mark": {"type": "rule", "color": "#8dd2f0", "strokeWidth": 2.5},
 "encoding": {"x": {"datum": -24.6, "type": "quantitative", "scale": {"domain": [-24.6, 365], "nice": false, "zero": false}, "axis": null}, "x2": {"datum": 365},
  "y": {"field": "p", "type": "quantitative", "scale": {"domain": [1.36589, 1.4076], "nice": false, "zero": false}}}},
{"data": {"name": "fl"}, "transform": [{"filter": "datum.k == 'r' && datum.p < 1.4"}],
 "mark": {"type": "rule", "color": "#ffcc33", "strokeWidth": 2.5},
 "encoding": {"x": {"datum": 30.5, "type": "quantitative", "scale": {"domain": [-24.6, 365], "nice": false, "zero": false}, "axis": null}, "x2": {"datum": 365},
  "y": {"field": "p", "type": "quantitative", "scale": {"domain": [1.36589, 1.4076], "nice": false, "zero": false}}}},
{"data": {"name": "one"}, "mark": {"type": "rule", "color": "#1ea3dc", "strokeWidth": 2},
 "encoding": {"x": {"datum": 10.6, "type": "quantitative", "scale": {"domain": [-24.6, 365], "nice": false, "zero": false}, "axis": null}, "x2": {"datum": 365},
  "y": {"datum": 1.4009, "type": "quantitative", "scale": {"domain": [1.36589, 1.4076], "nice": false, "zero": false}}}},
{"data": {"name": "fl"}, "transform": [{"filter": "datum.k == 'r'"}],
 "mark": {"type": "rule", "color": "#ff6060", "strokeWidth": 1, "strokeDash": [2, 2]},
 "encoding": {"x": {"datum": -24.6, "type": "quantitative", "scale": {"domain": [-24.6, 365], "nice": false, "zero": false}, "axis": null}, "x2": {"datum": 365},
  "y": {"field": "p", "type": "quantitative", "scale": {"domain": [1.36589, 1.4076], "nice": false, "zero": false}}}},
{"data": {"name": "one"}, "mark": {"type": "rule", "color": "#ff6060", "strokeWidth": 1, "strokeDash": [2, 2]},
 "encoding": {"x": {"datum": -24.6, "type": "quantitative", "scale": {"domain": [-24.6, 365], "nice": false, "zero": false}, "axis": null}, "x2": {"datum": 33.9},
  "y": {"datum": 1.38745, "type": "quantitative", "scale": {"domain": [1.36589, 1.4076], "nice": false, "zero": false}}, "y2": {"datum": 1.4009}}},
{"data": {"name": "cd"},
 "mark": {"type": "rule", "strokeWidth": 1},
 "encoding": {"x": {"field": "i", "type": "quantitative", "scale": {"domain": [-24.6, 365], "nice": false, "zero": false}, "axis": null},
  "y": {"field": "l", "type": "quantitative", "scale": {"domain": [1.36589, 1.4076], "nice": false, "zero": false}},
  "y2": {"field": "h"},
  "color": {"condition": {"test": "datum.c >= datum.o", "value": "#0b8f0b"}, "value": "#f01818"}}},
{"data": {"name": "cd"},
 "mark": {"type": "bar", "width": 1.4},
 "encoding": {"x": {"field": "i", "type": "quantitative", "scale": {"domain": [-24.6, 365], "nice": false, "zero": false}, "axis": null},
  "y": {"field": "o", "type": "quantitative", "scale": {"domain": [1.36589, 1.4076], "nice": false, "zero": false}}, "y2": {"field": "c"},
  "color": {"condition": {"test": "datum.c >= datum.o", "value": "#0b8f0b"}, "value": "#f01818"}}},
{"data": {"name": "fl"},
 "mark": {"type": "text", "align": "right", "baseline": "bottom", "fontSize": 6.5, "dy": -0.5},
 "encoding": {"x": {"datum": 364.8, "type": "quantitative", "scale": {"domain": [-24.6, 365], "nice": false, "zero": false}, "axis": null},
  "y": {"field": "p", "type": "quantitative", "scale": {"domain": [1.36589, 1.4076], "nice": false, "zero": false}},
  "text": {"field": "t"},
  "color": {"condition": {"test": "datum.k == 'g'", "value": "#5fa832"}, "value": "#ff5a5a"}}},
{"data": {"name": "tg"},
 "mark": {"type": "point", "shape": "M-1,-0.32H1V0.32H-1Z", "size": 2500, "filled": true, "fill": "white", "opacity": 1, "strokeWidth": 1},
 "encoding": {"x": {"field": "i", "type": "quantitative", "scale": {"domain": [-24.6, 365], "nice": false, "zero": false}, "axis": null},
  "y": {"field": "p", "type": "quantitative", "scale": {"domain": [1.36589, 1.4076], "nice": false, "zero": false}},
  "stroke": {"condition": {"test": "datum.k == 'g'", "value": "#4a9a4a"}, "value": "#f07070"}}},
{"data": {"name": "tg"},
 "mark": {"type": "text", "align": "center", "baseline": "middle", "fontSize": 12.5},
 "encoding": {"x": {"field": "i", "type": "quantitative", "scale": {"domain": [-24.6, 365], "nice": false, "zero": false}, "axis": null},
  "y": {"field": "p", "type": "quantitative", "scale": {"domain": [1.36589, 1.4076], "nice": false, "zero": false}},
  "text": {"field": "t"},
  "color": {"condition": {"test": "datum.k == 'g'", "value": "#2e8b2e"}, "value": "#e02828"}}},
{"data": {"name": "one"}, "mark": {"type": "text", "align": "left", "baseline": "middle", "fontSize": 6.3, "color": "#000000"},
 "encoding": {"x": {"datum": -23.4, "type": "quantitative", "scale": {"domain": [-24.6, 365], "nice": false, "zero": false}, "axis": null},
  "y": {"datum": 1.40696, "type": "quantitative", "scale": {"domain": [1.36589, 1.4076], "nice": false, "zero": false}},
  "text": {"value": "▼ GBPUSD,H1  1.39090 1.39103 1.38961 1.38981"}}},
{"data": {"name": "yt"},
 "mark": {"type": "text", "align": "left", "baseline": "middle", "fontSize": 6.6, "color": "#000000"},
 "encoding": {"x": {"datum": 367.1, "type": "quantitative", "scale": {"domain": [-24.6, 365], "nice": false, "zero": false}, "axis": null},
  "y": {"field": "p", "type": "quantitative", "scale": {"domain": [1.36589, 1.4076], "nice": false, "zero": false}},
  "text": {"field": "p", "type": "quantitative", "format": ".5f"}}},
{"data": {"name": "one"}, "mark": {"type": "point", "shape": "M-1,-0.28H1V0.28H-1Z", "size": 841, "filled": true, "color": "#000000", "opacity": 1},
 "encoding": {"x": {"datum": 373.2, "type": "quantitative", "scale": {"domain": [-24.6, 365], "nice": false, "zero": false}, "axis": null},
  "y": {"datum": 1.38981, "type": "quantitative", "scale": {"domain": [1.36589, 1.4076], "nice": false, "zero": false}}}},
{"data": {"name": "one"}, "mark": {"type": "text", "align": "center", "baseline": "middle", "fontSize": 6.6, "color": "#ffffff"},
 "encoding": {"x": {"datum": 373.2, "type": "quantitative", "scale": {"domain": [-24.6, 365], "nice": false, "zero": false}, "axis": null},
  "y": {"datum": 1.38981, "type": "quantitative", "scale": {"domain": [1.36589, 1.4076], "nice": false, "zero": false}},
  "text": {"value": "1.38981"}}}
]
},
{
"width": 752, "height": 106,
"layer": [
{"data": {"name": "one"}, "mark": {"type": "rect", "color": "#e9eef5"},
 "encoding": {"x": {"datum": 65.5, "type": "quantitative", "scale": {"domain": [-24.6, 365], "nice": false, "zero": false},
   "axis": {"orient": "bottom", "values": [-23, 0, 24, 48, 72, 96, 120, 144, 168, 192, 216, 240, 264, 288], "labelExpr": "datum.value < 0 ? '16 Apr 2021' : ['19 Apr','20 Apr','21 Apr','22 Apr','23 Apr','26 Apr','27 Apr','28 Apr','29 Apr','30 Apr','3 May','4 May','5 May'][round(datum.value/24)] + ' 02:00'", "labelAlign": "left", "labelPadding": 0, "tickSize": 2, "labelOverlap": false, "labelBound": false, "labelFlush": false, "title": null}},
  "x2": {"datum": 110.1},
  "y": {"datum": 0.00917, "type": "quantitative", "scale": {"domain": [-0.00472, 0.00917], "nice": false, "zero": false},
   "axis": {"orient": "right", "values": [-0.004581, 0, 0.008652], "labelExpr": "datum.value == 0 ? '0.00' : format(datum.value, '.6f')", "labelFontSize": 5.6, "tickSize": 2, "labelPadding": 1, "title": null, "labelOverlap": false, "labelBound": false, "labelFlush": false}},
  "y2": {"datum": -0.00472}}},
{"data": {"values": [{"v": 0.00603, "a": 156.2, "b": 245.9}, {"v": -0.00472, "a": 156.2, "b": 266.6}]},
 "mark": {"type": "area", "orient": "horizontal", "color": "#e9eef5", "opacity": 1},
 "encoding": {"y": {"field": "v", "type": "quantitative", "scale": {"domain": [-0.00472, 0.00917], "nice": false, "zero": false}},
  "x": {"field": "a", "type": "quantitative", "scale": {"domain": [-24.6, 365], "nice": false, "zero": false}}, "x2": {"field": "b"}}},
{"data": {"name": "hg"},
 "transform": [{"window": [{"op": "lag", "field": "v", "as": "pv"}], "sort": [{"field": "i", "order": "ascending"}]}],
 "mark": {"type": "bar", "width": 1.3},
 "encoding": {"x": {"field": "i", "type": "quantitative", "scale": {"domain": [-24.6, 365], "nice": false, "zero": false}},
  "y": {"field": "v", "type": "quantitative", "scale": {"domain": [-0.00472, 0.00917], "nice": false, "zero": false}},
  "y2": {"datum": 0},
  "color": {"condition": {"test": "datum.pv != null && datum.v < datum.pv", "value": "#ff2a2a"}, "value": "#3ccf3c"}}},
{"data": {"name": "ml"},
 "mark": {"type": "line", "interpolate": "monotone", "strokeWidth": 1},
 "encoding": {"x": {"field": "i", "type": "quantitative", "scale": {"domain": [-24.6, 365], "nice": false, "zero": false}},
  "y": {"field": "v", "type": "quantitative", "scale": {"domain": [-0.00472, 0.00917], "nice": false, "zero": false}},
  "detail": {"field": "s"},
  "color": {"condition": {"test": "datum.s == 'macd'", "value": "#555555"}, "value": "#f0d060"}}},
{"data": {"name": "one"}, "mark": {"type": "text", "align": "left", "baseline": "middle", "fontSize": 6, "color": "#000000"},
 "encoding": {"x": {"datum": -23.4, "type": "quantitative", "scale": {"domain": [-24.6, 365], "nice": false, "zero": false}},
  "y": {"datum": 0.0087, "type": "quantitative", "scale": {"domain": [-0.00472, 0.00917], "nice": false, "zero": false}},
  "text": {"value": "MACD-2 (50,150,15) 0.0000000 0.0008460 -0.0002678 -0.0005498"}}}
]
}
]
}
